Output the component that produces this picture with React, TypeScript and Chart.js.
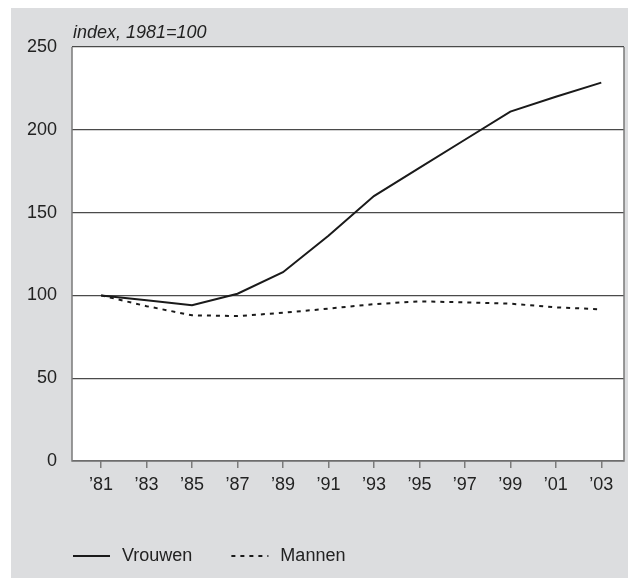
import React, { useEffect, useRef } from "react";
import { Chart, registerables } from "chart.js";

Chart.register(...registerables);

const years = [1981, 1983, 1985, 1987, 1989, 1991, 1993, 1995, 1997, 1999, 2001, 2003];
const vrouwen = [100, 97, 94, 101, 114, 136, 160, 177, 194, 211, 220, 228.5];
const mannen = [100, 93.5, 88, 87.5, 89.5, 92, 94.7, 96.4, 95.8, 95, 92.8, 91.6];
const yTicks = [0, 50, 100, 150, 200, 250];
const seriesNames = ["Vrouwen", "Mannen"];
const yTitle = "index, 1981=100";

const FONT = "'Liberation Sans', Arial, sans-serif";
const BG = "#dcdddf";
const TEXT = "#222222";

const framePlugin = {
  id: "frame",
  beforeDraw(chart: any) {
    const { ctx, chartArea: a } = chart;
    ctx.save();
    ctx.fillStyle = BG;
    ctx.fillRect(11, 8, chart.width - 11, chart.height - 8);
    ctx.fillStyle = "#ffffff";
    ctx.fillRect(a.left, a.top, a.right - a.left, a.bottom - a.top);
    ctx.restore();
  },
  beforeDatasetsDraw(chart: any) {
    const { ctx, chartArea: a } = chart;
    ctx.save();
    ctx.strokeStyle = "#7a7a7a";
    ctx.lineWidth = 1.5;
    ctx.beginPath();
    ctx.moveTo(a.left, a.top);
    ctx.lineTo(a.left, a.bottom);
    ctx.lineTo(a.right, a.bottom);
    ctx.lineTo(a.right, a.top);
    ctx.stroke();
    ctx.fillStyle = TEXT;
    ctx.font = `italic 18px ${FONT}`;
    ctx.textAlign = "left";
    ctx.textBaseline = "alphabetic";
    ctx.fillText(yTitle, a.left + 1, a.top - 9.5);
    ctx.restore();
  },
  afterDraw(chart: any) {
    const { ctx, chartArea: a } = chart;
    ctx.save();
    ctx.font = `18px ${FONT}`;
    ctx.textBaseline = "middle";
    ctx.textAlign = "left";
    const y = 556;
    let x = a.left + 1;
    chart.data.datasets.forEach((ds: any) => {
      ctx.strokeStyle = ds.borderColor;
      ctx.lineWidth = ds.borderWidth;
      ctx.setLineDash(ds.borderDash || []);
      ctx.beginPath();
      ctx.moveTo(x, y);
      ctx.lineTo(x + 37, y);
      ctx.stroke();
      ctx.setLineDash([]);
      ctx.fillStyle = TEXT;
      ctx.fillText(ds.label, x + 49, y);
      x += 49 + ctx.measureText(ds.label).width + 39;
    });
    ctx.restore();
  },
};

export default function App() {
  const ref = useRef<HTMLCanvasElement>(null);
  useEffect(() => {
    if (!ref.current) return;
    const chart = new Chart(ref.current, {
      type: "line",
      data: {
        datasets: [
          {
            label: seriesNames[0],
            data: years.map((x, i) => ({ x, y: vrouwen[i] })),
            borderColor: "#1a1a1a",
            backgroundColor: "#1a1a1a",
            borderWidth: 2,
            pointRadius: 0,
            tension: 0,
          },
          {
            label: seriesNames[1],
            data: years.map((x, i) => ({ x, y: mannen[i] })),
            borderColor: "#1a1a1a",
            backgroundColor: "#1a1a1a",
            borderWidth: 2,
            borderDash: [4, 5],
            pointRadius: 0,
            tension: 0,
          },
        ],
      },
      options: {
        animation: false,
        responsive: false,
        layout: { padding: { left: 0, top: 47, right: 4, bottom: 0 } },
        plugins: {
          tooltip: { enabled: false },
          legend: { display: false },
        },
        scales: {
          x: {
            type: "linear",
            min: 1979.72,
            max: 2004,
            afterBuildTicks: (s: any) => {
              s.ticks = years.map((v) => ({ value: v }));
            },
            afterFit: (s: any) => {
              s.height = 117;
            },
            grid: {
              drawOnChartArea: false,
              drawTicks: true,
              tickLength: 7,
              color: "#7a7a7a",
              lineWidth: 1.5,
            },
            border: { display: false },
            ticks: {
              autoSkip: false,
              maxRotation: 0,
              padding: 6,
              color: TEXT,
              font: { family: FONT, size: 18 },
              callback: (v: any) => "\u2019" + String(v).slice(2),
            },
          },
          y: {
            min: 0,
            max: 250,
            afterBuildTicks: (s: any) => {
              s.ticks = yTicks.map((v) => ({ value: v }));
            },
            afterFit: (s: any) => {
              s.width = 72;
            },
            grid: {
              drawTicks: false,
              color: "#4a4a4a",
              lineWidth: 1.2,
            },
            border: { display: false },
            ticks: {
              padding: 15,
              color: TEXT,
              font: { family: FONT, size: 18 },
            },
          },
        },
      },
      plugins: [framePlugin],
    });
    return () => chart.destroy();
  }, []);
  return (
    <div style={{ position: "absolute", left: 0, top: 0, width: 628, height: 578 }}>
      <canvas ref={ref} width={628} height={578} />
    </div>
  );
}
